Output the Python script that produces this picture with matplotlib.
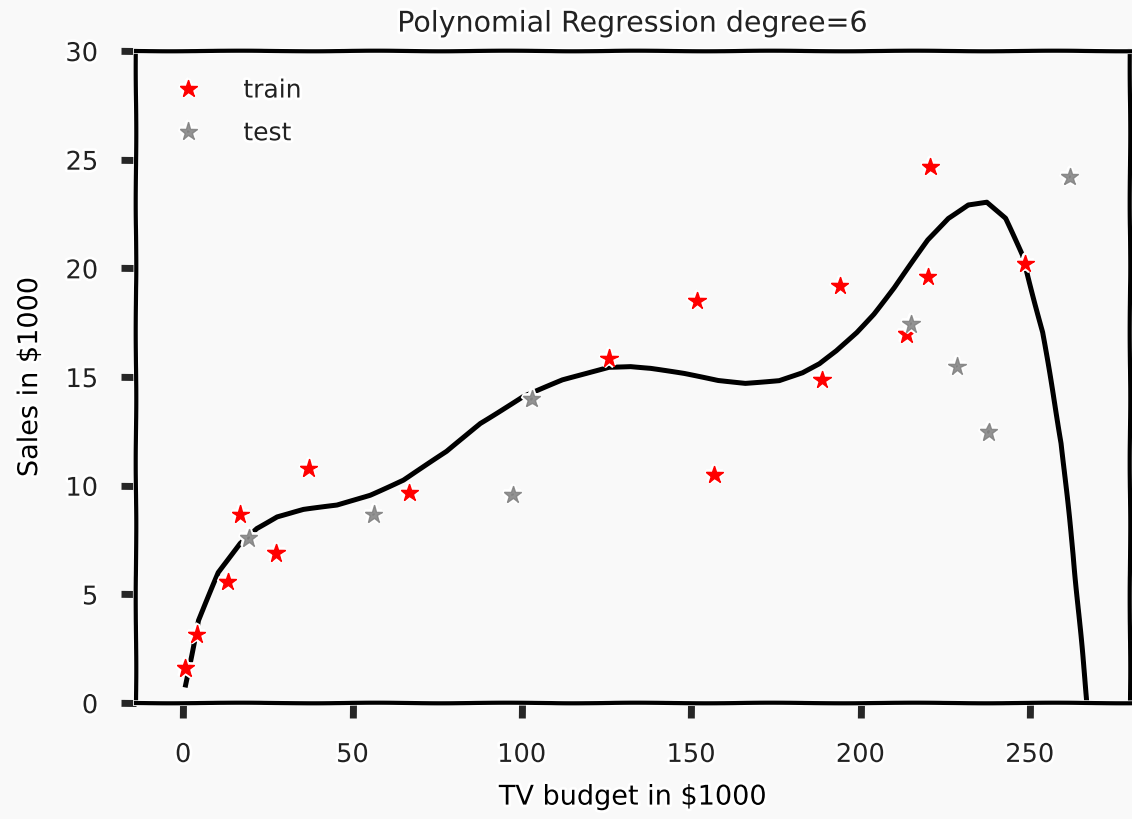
import matplotlib
matplotlib.use("Agg")
import matplotlib.pyplot as plt
import numpy as np

# training points (TV budget, Sales)
train_x = [0.6, 4.0, 13.1, 16.8, 27.4, 37.0, 66.8, 125.7, 151.7, 156.8,
           188.6, 193.9, 213.6, 219.9, 220.6, 248.6]
train_y = [1.6, 3.16, 5.58, 8.68, 6.89, 10.8, 9.68, 15.86, 18.5, 10.5,
           14.88, 19.19, 16.97, 19.61, 24.68, 20.2]

# test points
test_x = [19.3, 56.2, 97.3, 102.9, 214.9, 228.5, 237.8, 261.8]
test_y = [7.58, 8.68, 9.57, 13.98, 17.43, 15.49, 12.46, 24.2]

# fitted degree-6 polynomial curve
fit_x = [0.7, 4.5, 10.4, 16.8, 21.7, 27.7, 35.5, 45.4, 55.2, 65.0, 77.8,
         87.7, 100.4, 112.0, 125.7, 132.1, 138.0, 148.0, 158.0, 166.0,
         176.0, 182.9, 187.9, 192.9, 198.9, 203.9, 209.9, 219.9, 225.9,
         231.8, 237.3, 242.8, 247.8, 253.8, 259.3, 262.8, 267.5]
fit_y = [0.83, 3.8, 6.0, 7.35, 8.04, 8.57, 8.9, 9.1, 9.57, 10.26, 11.57,
         12.87, 14.1, 14.86, 15.46, 15.49, 15.40, 15.15, 14.84, 14.72,
         14.84, 15.19, 15.6, 16.2, 17.05, 17.9, 19.1, 21.3, 22.3,
         22.93, 23.05, 22.3, 20.6, 17.05, 11.95, 6.84, -1.0]

x_ticks = [0, 50, 100, 150, 200, 250]
y_ticks = [0, 5, 10, 15, 20, 25, 30]

plt.xkcd(scale=0.3, length=150, randomness=2)
plt.rcParams['font.family'] = ['DejaVu Sans']
plt.rcParams['text.color'] = '#222222'
plt.rcParams['xtick.color'] = '#262626'
plt.rcParams['ytick.color'] = '#262626'
plt.rcParams['xtick.labelcolor'] = '#222222'
plt.rcParams['ytick.labelcolor'] = '#222222'

fig = plt.figure(figsize=(11.32, 8.19), dpi=100, facecolor='#f9f9f9')
ax = fig.add_axes([0.120, 0.1416, 0.878, 0.7961])
ax.set_facecolor('#f9f9f9')

ax.plot(fit_x, fit_y, color='black', lw=3.6, zorder=2)
ax.plot(train_x, train_y, '*', color='red', ms=13, label='train', zorder=3)
ax.plot(test_x, test_y, '*', color='gray', ms=13, alpha=0.85, label='test', zorder=4)

ax.set_xlim(-14, 279.5)
ax.set_ylim(0, 30)
ax.set_xticks(x_ticks)
ax.set_yticks(y_ticks)
ax.tick_params(axis='both', labelsize=18.5, length=11, width=5, direction='out')
ax.tick_params(axis='x', pad=17)
ax.tick_params(axis='y', pad=16)
for s in ax.spines.values():
    s.set_linewidth(3)
    s.set_color('black')

ax.set_title('Polynomial Regression degree=6', fontsize=20.5, pad=14)
ax.set_xlabel('TV budget in $1000', fontsize=19.5, labelpad=12)
ax.set_ylabel('Sales in $1000', fontsize=19.5, labelpad=16)
ax.legend(loc='upper left', frameon=False, fontsize=18, numpoints=1,
          labelspacing=0.75, handletextpad=1.2, borderaxespad=0.7)

fig.savefig('out.png', dpi=100, facecolor='#f9f9f9')
